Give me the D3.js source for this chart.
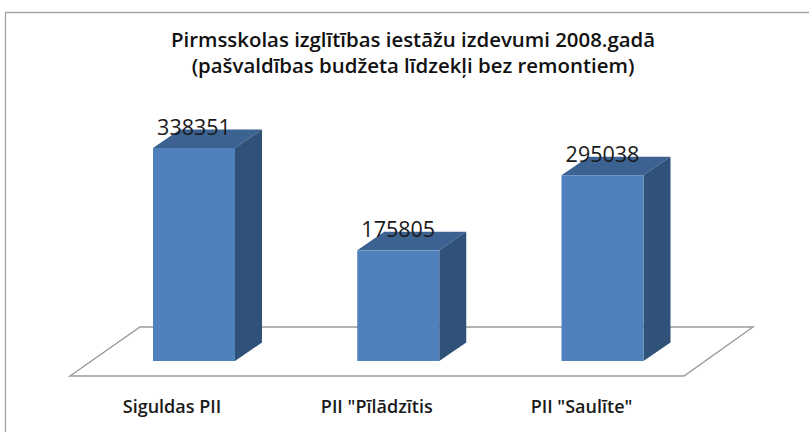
<!DOCTYPE html>
<html><head><meta charset="utf-8">
<script src="https://cdn.jsdelivr.net/npm/d3@7/dist/d3.min.js"></script>
<style>html,body{margin:0;padding:0;background:#fff}svg{display:block}</style>
</head><body><svg id="c" width="809" height="432"></svg>
<script>
const categories = ['Siguldas PII', 'PII "Pīlādzītis', 'PII "Saulīte"'];
const values = [338351, 175805, 295038];
const titleLines = ['Pirmsskolas izglītības iestāžu izdevumi 2008.gadā', '(pašvaldības budžeta līdzekļi bez remontiem)'];

const svg = d3.select('#c');
const baseY = 361, depthX = 27, depthY = 18.6, barW = 82;
const xPos = d3.scalePoint().domain(categories).range([194, 602.5]);
const labelX = d3.scalePoint().domain(categories).range([172, 581.5]);
const y = d3.scaleLinear().domain([0, 338351]).range([baseY, 148]);

// frame
svg.append('path').attr('d', 'M5.5,432V12.5H809').attr('fill', 'none').attr('stroke', '#a6a6a6').attr('stroke-width', 1.3);

// floor
svg.append('path').attr('d', 'M70,376L140,327H753L684,376Z').attr('fill', '#fff').attr('stroke', '#9a9a9a').attr('stroke-width', 1.4);

// titles
svg.append('g').selectAll('text').data(titleLines).join('text')
  .attr('x', 413).attr('y', (d, i) => 47 + i * 25.7)
  .attr('text-anchor', 'middle').attr('font-family', 'Open Sans').attr('font-weight', 600)
  .attr('font-size', 20.4).attr('fill', '#111').text(d => d);

// bars
const rows = categories.map((c, i) => ({c, v: values[i]}));
const g = svg.append('g').selectAll('g').data(rows).join('g');
const pts = a => a.map(p => p.join(',')).join(' ');
g.append('polygon').attr('fill', '#3c6292').attr('points', d => {
  const l = xPos(d.c) - barW / 2, r = l + barW, t = y(d.v);
  return pts([[l, t], [r, t], [r + depthX, t - depthY], [l + depthX, t - depthY]]);
});
g.append('polygon').attr('fill', '#305278').attr('points', d => {
  const r = xPos(d.c) + barW / 2, t = y(d.v);
  return pts([[r, t], [r + depthX, t - depthY], [r + depthX, baseY - depthY], [r, baseY]]);
});
g.append('rect').attr('fill', '#4f81bd')
  .attr('x', d => xPos(d.c) - barW / 2).attr('width', barW)
  .attr('y', d => y(d.v)).attr('height', d => baseY - y(d.v));
g.append('text').attr('x', d => xPos(d.c)).attr('y', d => y(d.v) - 13.5)
  .attr('text-anchor', 'middle').attr('font-family', 'Open Sans').attr('font-size', 21.5)
  .attr('fill', '#1a1a1a').text(d => d.v);

// category labels
svg.append('g').selectAll('text').data(categories).join('text')
  .attr('x', d => labelX(d)).attr('y', 413)
  .attr('text-anchor', 'middle').attr('font-family', 'Open Sans').attr('font-weight', 600)
  .attr('font-size', 18).attr('fill', '#1a1a1a').text(d => d);
</script></body></html>
